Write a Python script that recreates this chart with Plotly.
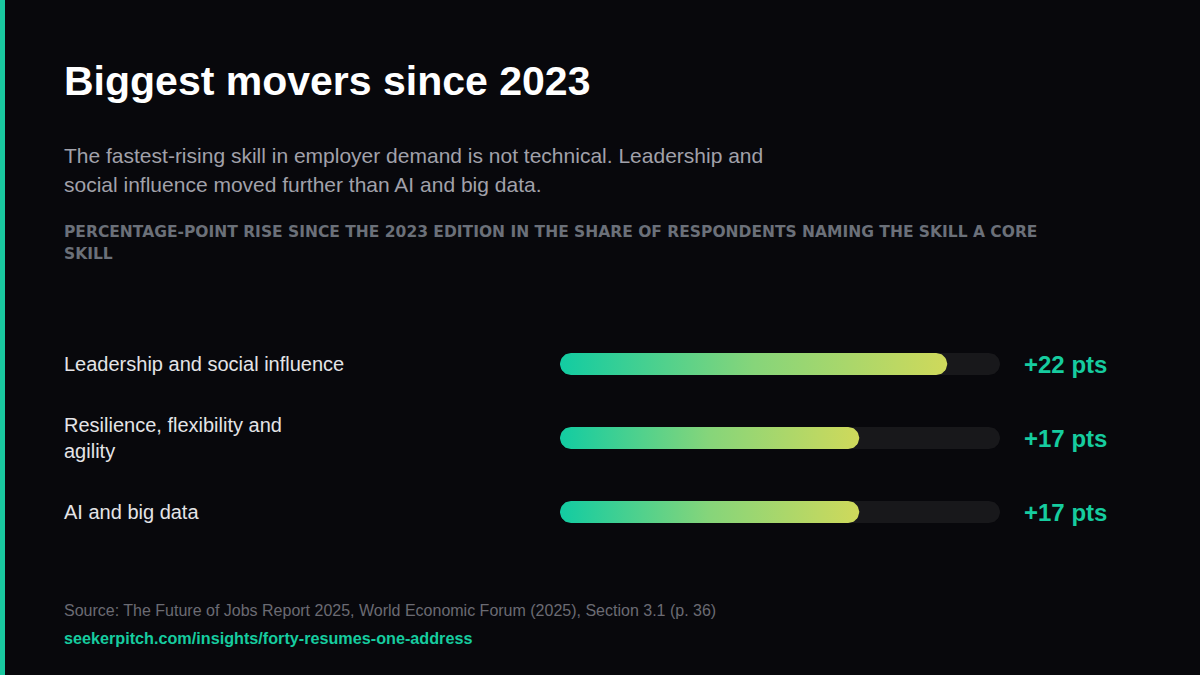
import numpy as np
import plotly.graph_objects as go

# Data
skills = ["Leadership and social influence", "Resilience, flexibility and<br>agility", "AI and big data"]
rise_pts = [22, 17, 17]
scale_max = 25

title = "Biggest movers since 2023"
subtitle_lines = [
    "The fastest-rising skill in employer demand is not technical. Leadership and",
    "social influence moved further than AI and big data.",
]
caption_lines = [
    "PERCENTAGE-POINT RISE SINCE THE 2023 EDITION IN THE SHARE OF RESPONDENTS NAMING THE SKILL A CORE",
    "SKILL",
]
source = "Source: The Future of Jobs Report 2025, World Economic Forum (2025), Section 3.1 (p. 36)"
url = "seekerpitch.com/insights/forty-resumes-one-address"

# Style / layout
W, H = 1200, 675
BG = "#08080c"
TEAL = "#16cc9f"
TRACK = "#18181b"
FONT = "Liberation Sans"

x_px = (560, 1000)        # bar track pixel span
row_px = (327, 549)       # top/bottom of the 3 rows
row_h = (row_px[1] - row_px[0]) / len(skills)
half_h = 11 / row_h       # bar half height in row units
rad_x = 11 * scale_max / (x_px[1] - x_px[0])  # end radius in x units
LEFT = 62 / W


def pill(x0, x1, yc):
    """Closed outline of a rounded bar from x0 to x1 centered on yc."""
    t = np.linspace(-np.pi / 2, np.pi / 2, 24)
    right_x = (x1 - rad_x) + rad_x * np.cos(t)
    right_y = yc + half_h * np.sin(t)
    left_x = (x0 + rad_x) - rad_x * np.cos(t[::-1])
    left_y = yc + half_h * np.sin(t[::-1])
    xs = np.concatenate([right_x, left_x, right_x[:1]])
    ys = np.concatenate([right_y, left_y, right_y[:1]])
    return xs, ys


def page_text(text, ypx, size, color, family=FONT, weight="normal"):
    fig.add_annotation(x=LEFT, y=1 - ypx / H, xref="paper", yref="paper",
                       text=text, xanchor="left", yanchor="middle", align="left",
                       showarrow=False,
                       font=dict(family=family, size=size, color=color, weight=weight))


fig = go.Figure()

for i, (skill, val) in enumerate(zip(skills, rise_pts)):
    # background track
    tx, ty = pill(0, scale_max, i)
    fig.add_trace(go.Scatter(x=tx, y=ty, mode="lines", fill="toself",
                             fillcolor=TRACK, line=dict(width=0),
                             hoverinfo="skip", showlegend=False))
    # gradient value bar
    bx, by = pill(0, val, i)
    fig.add_trace(go.Scatter(
        x=bx, y=by, mode="lines", fill="toself", line=dict(width=0),
        fillgradient=dict(type="horizontal",
                          colorscale=[[0, "#12cca2"], [0.5, "#86d57a"], [1, "#cfd95b"]]),
        hoverinfo="skip", showlegend=False))

    fig.add_annotation(x=LEFT, xref="paper", y=i, yref="y", text=skill,
                       xanchor="left", yanchor="middle", align="left", showarrow=False,
                       font=dict(family=FONT, size=20, color="#e4e4e7"))
    fig.add_annotation(x=1022 / W, xref="paper", y=i, yref="y", text=f"+{val} pts",
                       xanchor="left", yanchor="middle", showarrow=False,
                       font=dict(family=FONT, size=24, color=TEAL, weight="bold"))

# header texts
page_text(title, 81, 41, "#ffffff", weight="bold")
for k, line in enumerate(subtitle_lines):
    page_text(line, 155 + 29 * k, 21, "#a1a1aa")
for k, line in enumerate(caption_lines):
    page_text(line, 232 + 22 * k, 15.5, "#6b7079", family="DejaVu Sans", weight="bold")

# footer
page_text(source, 610, 16, "#6b6b73")
page_text(url, 638, 16.2, TEAL, weight="bold")

# left accent stripe
fig.add_shape(type="rect", xref="paper", yref="paper", x0=0, x1=5 / W, y0=0, y1=1,
              fillcolor="#19c9a0", line=dict(width=0), layer="below")

fig.update_layout(
    width=W, height=H,
    margin=dict(l=0, r=0, t=0, b=0),
    paper_bgcolor=BG, plot_bgcolor=BG,
    xaxis=dict(domain=[x_px[0] / W, x_px[1] / W], range=[0, scale_max],
               visible=False, fixedrange=True),
    yaxis=dict(domain=[1 - row_px[1] / H, 1 - row_px[0] / H],
               range=[len(skills) - 0.5, -0.5], visible=False, fixedrange=True),
    showlegend=False,
)

fig.write_html("out.html", config={"displayModeBar": False},
               post_script="document.body.style.margin='0';document.body.style.background='%s';" % BG)
